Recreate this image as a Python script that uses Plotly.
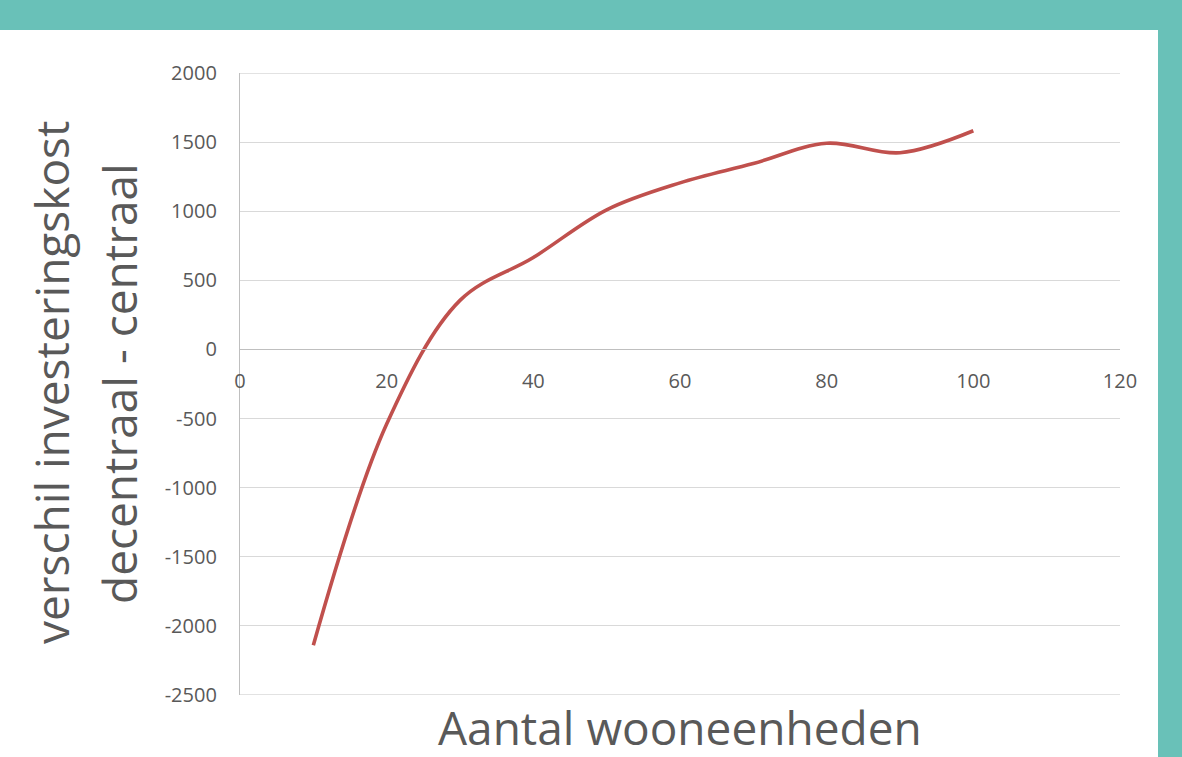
import plotly.graph_objects as go

# Number of housing units vs. investment-cost difference (decentralised - centralised)
units = [10, 20, 30, 40, 50, 60, 70, 80, 90, 100]
cost_diff = [-2140, -540, 355, 665, 1010, 1205, 1345, 1492, 1423, 1582]

x_ticks = [0, 20, 40, 60, 80, 100, 120]
y_ticks = [2000, 1500, 1000, 500, 0, -500, -1000, -1500, -2000, -2500]

y_title_lines = ["verschil investeringskost", "decentraal - centraal"]
x_title = "Aantal wooneenheden"

TEXT = "#595959"
TEAL = "#69c1b8"
GRID = "#d9d9d9"
AXIS = "#bfbfbf"
FONT = "Open Sans"

W, H = 1182, 757
L, R, T, B = 240, 62, 73, 62
plot_w = W - L - R
plot_h = H - T - B


def px_x(px):
    return (px - L) / plot_w


def px_y(py):
    return (H - B - py) / plot_h


fig = go.Figure()
fig.add_trace(go.Scatter(
    x=units, y=cost_diff, mode="lines",
    line=dict(color="#c0504d", width=3.6, shape="spline", smoothing=1.0),
    showlegend=False, hoverinfo="x+y",
))

y_min, y_max = y_ticks[-1], y_ticks[0]
fig.update_layout(
    width=W, height=H,
    margin=dict(l=L, r=R, t=T, b=B),
    paper_bgcolor="white", plot_bgcolor="white",
    font=dict(family=FONT, color=TEXT, size=20),
    xaxis=dict(
        range=[x_ticks[0], x_ticks[-1]], tickvals=x_ticks,
        ticktext=[str(v) for v in x_ticks],
        showgrid=False, zeroline=False,
        showline=True, linecolor=AXIS, linewidth=1.3,
        anchor="free", position=(0 - y_min) / (y_max - y_min),
        ticks="", ticklabelstandoff=13,
        tickfont=dict(size=20, color=TEXT),
    ),
    yaxis=dict(
        range=[y_min, y_max], tickvals=y_ticks, ticktext=[str(v) for v in y_ticks],
        showgrid=True, gridcolor=GRID, gridwidth=1.3,
        zeroline=False, showline=True, linecolor=AXIS, linewidth=1.3,
        ticks="", ticklabelstandoff=18,
        tickfont=dict(size=20, color=TEXT),
    ),
)

# Gridlines on the top and bottom edges of the value range
for edge in (y_max, y_min):
    fig.add_shape(type="line", xref="paper", yref="y", x0=0, x1=1, y0=edge, y1=edge,
                  line=dict(color=GRID, width=1.3), layer="below")

# Axis titles
fig.add_annotation(
    text=y_title_lines[0], xref="paper", yref="paper",
    x=px_x(51), y=px_y(383), xanchor="center", yanchor="middle",
    textangle=-90, showarrow=False, font=dict(size=46, color=TEXT, family=FONT),
)
fig.add_annotation(
    text=y_title_lines[1], xref="paper", yref="paper",
    x=px_x(119), y=px_y(383), xanchor="center", yanchor="middle",
    textangle=-90, showarrow=False, font=dict(size=46, color=TEXT, family=FONT),
)
fig.add_annotation(
    text=x_title, xref="paper", yref="paper",
    x=0.5, y=px_y(727), xanchor="center", yanchor="middle",
    showarrow=False, font=dict(size=46, color=TEXT, family=FONT),
)

# Teal frame: band along the top and strip down the right side
fig.add_shape(type="rect", xref="paper", yref="paper",
              x0=px_x(-10), x1=px_x(W + 10), y0=px_y(30), y1=px_y(-10),
              fillcolor=TEAL, line_width=0, layer="above")
fig.add_shape(type="rect", xref="paper", yref="paper",
              x0=px_x(1158), x1=px_x(W + 10), y0=px_y(H + 10), y1=px_y(-10),
              fillcolor=TEAL, line_width=0, layer="above")

fig.write_html("out.html")
